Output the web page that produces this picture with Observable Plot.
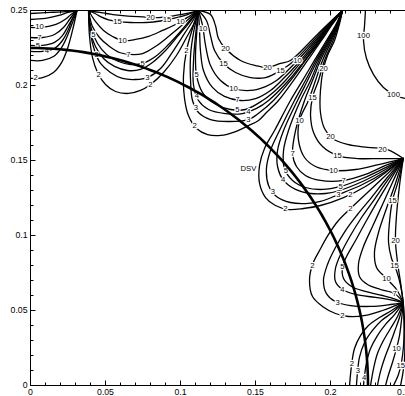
<!DOCTYPE html>
<html><head><meta charset="utf-8">
<script src="https://cdn.jsdelivr.net/npm/d3@7"></script>
<script src="https://cdn.jsdelivr.net/npm/@observablehq/plot@0.6"></script>
<style>html,body{margin:0;padding:0;background:#fff;} svg{display:block;}</style>
</head><body><div id="chart"></div>
<script>
// Contour lines. Each entry: [level, [[x_mm, y_mm], ...]]
const contoursA = [ // top-left lobes, running to the left edge
  [20, [[0,248],[13,248.7],[23,249.3],[31,250]]],
  [15, [[0,244],[10,244.7],[19,246.7],[25,248.7],[31,250]]],
  [10, [[0,238.7],[8,238.7],[17,240.7],[23,244],[27,247.3],[31,250]]],
  [7,  [[0,232],[8,232],[16,234],[22,238.7],[26,244],[29,248],[31,250]]],
  [5,  [[0,226.7],[8,226.7],[16,228.7],[21.3,233.3],[25.3,240],[28.7,246],[31,250]]],
  [4,  [[0,222.7],[8,222.7],[16,224.7],[21.3,230],[25.3,237.3],[28,244.7],[31,250]]],
  [3,  [[0,216.7],[8,216.7],[15.3,219.3],[20.7,225.3],[24.7,233.3],[28,242],[31,250]]],
  [2,  [[0,204.7],[8,205.3],[15.3,208.7],[20.7,215.3],[24.7,224.7],[28,236.7],[31,250]]]
];
const contoursB = [
  [2,  [[38.7,250],[39.3,233.3],[41.3,218.7],[44.7,208.7],[50,200.7],[56.7,196],[65.3,194.7],[73.3,196.7],[80,200.7],[88.7,208.7],[97.3,220],[104,232],[109.3,242],[112,250]]],
  [3,  [[38.7,250],[40,234.7],[42.7,223.3],[46.7,214.7],[53.3,208.7],[61.3,204.7],[70,204],[78,205.3],[86.7,211.3],[95.3,223.3],[102.7,234.7],[108.7,244],[112,250]]],
  [4,  [[38.7,250],[40,236],[43.3,226],[48.7,218],[56,212.7],[64.7,210],[73.3,210.7],[81.3,215.3],[90,223.3],[98,232.7],[105.3,241.3],[112,250]]],
  [5,  [[38.7,250],[40.7,237.3],[44.7,228],[50.7,220.7],[58.7,216],[66.7,214],[74.7,214.7],[83.3,219.3],[92,227.3],[100,236],[106.7,244],[112,250]]],
  [7,  [[38.7,250],[41.3,239.3],[46,232],[52.7,226],[59.3,222],[66.7,220.7],[74.7,221.3],[83.3,226],[92,232.7],[100,239.3],[107.3,246],[112,250]]],
  [10, [[38.7,250],[43.3,242.7],[48.7,236.7],[54.7,232.7],[61.3,230],[70,230.7],[78.7,232.7],[88,236.7],[98,241.3],[106.7,246.7],[112,250]]],
  [15, [[38.7,250],[43,248],[47,245.7],[52,243.8],[58,242.7],[66.7,242],[76.7,242],[86.7,243],[95.3,244.7],[104.7,247.3],[112,250]]],
  [20, [[38.7,250],[46,248.7],[55,247.3],[65,246.3],[75,245.8],[85.3,245.3],[96.7,246.7],[105.3,248.3],[112,250]]]
];
const contoursC = [
  [2,  [[112,250],[108,238],[104,223.3],[102,206.7],[102.7,191.3],[105.3,180],[110.7,171.3],[118,167.3],[126.7,166.7],[136.7,169.3],[145.3,173.3],[152,176.7],[157.3,182],[165.3,190],[175.3,203.3],[184.7,216.7],[194,230],[200.7,240],[208,250]]],
  [3,  [[112,250],[108.7,235.3],[106.7,220],[106.7,203.3],[108,190],[112,182],[120,177.3],[132,176],[145.3,177.3],[152.7,182],[162,190],[173.3,203.3],[183.3,216.7],[193.3,230],[200,240],[208,250]]],
  [4,  [[112,250],[110,233.3],[108.7,216.7],[108.7,200],[112,190],[118.7,184],[130,181.3],[141.3,181.3],[150.7,184.7],[158.7,190],[172,203.3],[182.7,216.7],[192.7,230],[200,240],[208,250]]],
  [5,  [[112,250],[110.7,233.3],[110,220],[110.7,206.7],[114.7,195.3],[122.7,188],[133.3,184],[143.3,184],[154.7,190],[163.3,196.7],[170,203.3],[181.3,216.7],[192,230],[199.3,240],[208,250]]],
  [7,  [[112,250],[112.7,236.7],[113.3,223.3],[115.3,210],[121.3,198.7],[129.3,192.7],[140,190],[150,191.3],[160,196.7],[167.3,203.3],[180,216.7],[191,230],[199.3,240],[208,250]]],
  [10, [[112,250],[114.7,240],[116.7,226.7],[120,213.3],[126.7,203.3],[135.3,198],[146.7,196.7],[156.7,199.3],[164,203.3],[178,216.7],[190,230],[198.7,240],[208,250]]],
  [15, [[112,250],[117.3,243.3],[120,233.3],[122.7,223.3],[128.7,214.7],[136.7,208.7],[146.7,205.3],[156.7,205.3],[166.7,210],[176,216.7],[188.7,230],[198,240],[208,250]]],
  [20, [[112,250],[120,247.3],[123.3,240],[125.3,231.3],[130,224.7],[140,216.7],[150,213.3],[158,212],[166.7,214.7],[173.3,216.7],[187.3,230],[197.3,240],[208,250]]]
];
const contoursD = [
  [2,  [[208,250],[203.3,240],[197.3,230],[189.3,216.7],[181.3,203.3],[173.3,190],[162.7,170],[156,158],[152.7,146.7],[152.7,134.7],[156.7,125.3],[163.3,120],[172,117.3],[182,118],[193.3,120],[208.7,125.3],[223.3,132.7],[236.7,142],[248.5,151.3]]],
  [3,  [[208,250],[203.7,240],[198,230],[190.3,216.7],[183.3,203.3],[176,190],[166,170],[160,156.7],[157.3,144.7],[158.7,133.3],[164,126],[173.3,122],[183.3,121.3],[193.3,122.7],[205.3,127.3],[221.3,134],[236.7,142.7],[248.5,151.3]]],
  [4,  [[208,250],[204,240],[198.7,230],[191.3,216.7],[184.7,203.3],[178,190],[168.7,170],[164.7,156.7],[164.7,146],[168.7,136.7],[176.7,130.7],[186.7,128],[196.7,128],[206,130],[221.3,136],[236.7,144],[248.5,151.3]]],
  [5,  [[208,250],[204.3,240],[199.3,230],[192.3,216.7],[186.7,203.3],[180,190],[172,170],[168.7,156.7],[169.3,144.7],[174.7,136.7],[183.3,132],[194.7,130.7],[206.7,132.7],[221.3,138],[236.7,145.3],[248.5,151.3]]],
  [7,  [[208,250],[204.7,240],[200,230],[193.3,216.7],[188,203.3],[182.7,190],[176.7,170],[174.7,154.7],[177.3,146],[183.3,140],[193.3,136.7],[208.7,136.7],[223.3,140.7],[236.7,146.7],[248.5,151.3]]],
  [10, [[208,250],[205,240],[200.7,230],[194.7,216.7],[190,203.3],[185.3,190],[179.3,176.7],[178.7,163.3],[182.7,152],[190,146],[202,143.3],[216.7,144],[232,147.3],[248.5,151.3]]],
  [15, [[208,250],[205.3,240],[201.7,230],[196,216.7],[192,203.3],[188,192],[186.7,180],[188.7,168.7],[194.7,159.3],[204.7,153.3],[218,151.3],[233.3,151.3],[248.5,151.3]]],
  [20, [[208,250],[205.7,240],[202.7,230],[198,220],[195.3,211.3],[193.3,196.7],[193.3,182],[196,171.3],[201.3,164.7],[211.3,160.7],[224.7,158.7],[238,157.3],[248.5,151.3]]]
];
const contoursE = [
  [2,  [[248.5,151.3],[236.7,140],[224.7,128.7],[213.3,118],[205.3,110],[198.7,100.7],[192.7,90],[188,80.7],[186,70],[188,59.3],[194.7,52.7],[203.3,48],[212,46],[223.3,46.7],[234.7,50],[243.3,53.3],[248.5,55.3]]],
  [3,  [[248.5,151.3],[237.3,138],[227.3,125.3],[218,114],[210,103.3],[203.3,92],[198,80.7],[195.3,70],[197.3,61.3],[203.3,56],[213.3,53.3],[226.7,52.7],[240,54],[248.5,55.3]]],
  [4,  [[248.5,151.3],[238,136.7],[228.7,123.3],[220.7,112],[213.3,100],[207.3,88.7],[203.3,78],[203.3,69.3],[208,64],[216.7,60.7],[230,58.7],[242,56.7],[248.5,55.3]]],
  [5,  [[248.5,151.3],[239.3,136],[231.3,122.7],[224,110],[216.7,96.7],[210.7,86],[208,79.3],[208.7,71.3],[214,66],[223.3,62.7],[234.7,60],[244,57.3],[248.5,55.3]]],
  [7,  [[248.5,151.3],[241.3,135.3],[234.7,120.7],[228,106],[222,92.7],[218.7,81.3],[219.3,72.7],[224.7,67.3],[233.3,64],[242.7,61.3],[248.5,55.3]]],
  [10, [[248.5,151.3],[243.3,134.7],[237.3,118],[232,102],[229.3,88.7],[230.7,78.7],[237.3,71.3],[244,64],[248.5,55.3]]],
  [15, [[248.5,151.3],[245.3,136.7],[241.3,123.3],[239.3,108.7],[238.7,95.3],[240.7,84.7],[244,76.7],[246.7,66.7],[248.5,55.3]]],
  [20, [[248.5,151.3],[246,133.3],[244,113.3],[243.3,96.7],[244.7,82],[246.7,68.7],[248.5,55.3]]]
];
const contoursF = [
  [2,  [[248.5,55.3],[240.7,50],[232.7,45.3],[225.3,40],[220,33.3],[216,24.7],[214,13.3],[212.7,0]]],
  [3,  [[248.5,55.3],[241.3,48.7],[234,43.3],[228,36.7],[222.7,28.7],[219.3,18.7],[218,8.7],[217.3,0]]],
  [4,  [[248.5,55.3],[242.7,47.3],[236.7,40.7],[231.3,33.3],[226.7,24.7],[224,15.3],[222.7,6.7],[222,0]]],
  [5,  [[248.5,55.3],[244.7,46],[240,38],[235.3,30],[231.3,21.3],[228.7,11.3],[226.7,0]]],
  [7,  [[248.5,55.3],[246,45.3],[242.7,36],[239.3,26.7],[236,18],[233.3,9.3],[231.3,0]]],
  [10, [[248.5,55.3],[247.3,43.3],[246,33.3],[244,24.7],[241.3,15.3],[238.7,7.3],[236.7,0]]],
  [15, [[248.5,55.3],[249,40],[248.7,26.7],[247.3,15.3],[245.3,7.3],[242,0]]],
  [20, [[248.5,55.3],[249.3,43.3],[249.3,16.7],[248,6.7],[246.7,0]]]
];
const contour100 = [[223.3,250],[222.7,240],[222,230],[224,218],[228.7,207.3],[235.3,198.7],[243.3,193.3],[250,191.3]];

// contour labels [x_mm, y_mm, text]
const contourLabels = [
  [6,239,"10"],[6,232,"7"],[5,226.7,"5"],[11,223.5,"4"],[3.5,205,"2"],
  [58,242.7,"15"],[61.3,230,"10"],[65.3,220.7,"7"],[74.7,214.7,"5"],[78,205.3,"3"],[80,200.7,"2"],
  [80,245.6,"20"],[91,243.8,"15"],[100,242.5,"10"],[42,234.3,"5"],[44,220.5,"3"],[45.5,207.5,"2"],
  [104,223.3,"2"],[110.7,207,"5"],[110.9,193.3,"4"],[110.3,185.3,"3"],[109.4,173.3,"2"],[115,238,"10"],
  [130,224.7,"20"],[128.7,214.7,"15"],[135.3,198,"10"],[138,190.5,"7"],[138,184,"5"],[145.3,182.7,"4"],[145.3,177.3,"3"],
  [158,212,"20"],[166.7,210,"15"],[178,216.7,"10"],
  [195.3,211.3,"20"],[188,192,"15"],[179.3,176.7,"10"],[174.7,154.7,"7"],[170.2,143.3,"5"],[168.4,137.3,"4"],[161.6,129.3,"3"],[170,117.9,"2"],
  [200,166.3,"20"],[204.7,153.3,"15"],[202,143.3,"10"],[208.7,136.7,"7"],[206.7,132.7,"5"],[205.3,127.3,"3"],[213.3,127.6,"2"],[234.7,157.6,"20"],
  [187.9,80,"2"],[208,46.9,"2"],[204.7,55.6,"3"],[208,64,"4"],[208,79.3,"5"],[242.7,61.3,"7"],[237.3,71.3,"10"],[242.7,80,"15"],[243.3,96.7,"20"],[213.3,118,"2"],[241.3,123.3,"15"],
  [214.2,14.7,"2"],[218.2,10,"3"],[222.5,5.3,"4"],[244,24.7,"10"],[246.8,13.3,"15"],
  [222,233.3,"100"],[242,194.2,"100"]
];
const dsvRadius = 0.225;           // m
const dsvLabel = {x: 0.1453, y: 0.1447, text: "DSV"};
const xTickValues = [0, 0.05, 0.1, 0.15, 0.2, 0.25];
const xTickLabels = ["0", "0.05", "0.1", "0.15", "0.2", "0.25"];
const yTickValues = [0, 0.05, 0.1, 0.15, 0.2, 0.25];
const yTickLabels = ["0", "0.05", "0.1", "0.15", "0.2", "0.25"];

const families = {A: contoursA, B: contoursB, C: contoursC, D: contoursD, E: contoursE, F: contoursF};
const rows = [];
for (const [name, fam] of Object.entries(families)) {
  for (const [lev, pts] of fam) for (const [x, y] of pts) rows.push({id: name + lev, level: lev, x: x / 1000, y: y / 1000});
}
for (const [x, y] of contour100) rows.push({id: "H100", level: 100, x: x / 1000, y: y / 1000});
const labels = contourLabels.map(([x, y, t]) => ({x: x / 1000, y: y / 1000, t}));
const dsv = d3.range(0, 91).map(a => ({x: dsvRadius * Math.cos(a * Math.PI / 180), y: dsvRadius * Math.sin(a * Math.PI / 180)}));
const minor = d3.range(0, 26).map(i => i / 100);

const seg = (dx, dy) => ({draw(ctx) { ctx.moveTo(0, 0); ctx.lineTo(dx, dy); }});
const tickMarks = (vals, len) => [
  Plot.dot(vals, {x: d => d, y: () => 0, symbol: seg(0, -len), stroke: "black", fill: "none", strokeWidth: 1}),
  Plot.dot(vals, {x: d => d, y: () => 0.25, symbol: seg(0, len), stroke: "black", fill: "none", strokeWidth: 1}),
  Plot.dot(vals, {x: () => 0, y: d => d, symbol: seg(len, 0), stroke: "black", fill: "none", strokeWidth: 1})
];

const chart = Plot.plot({
  width: 405, height: 396,
  marginLeft: 30, marginRight: 0, marginTop: 10, marginBottom: 11,
  x: {domain: [0, 0.25], label: null},
  y: {domain: [0, 0.25], label: null},
  style: {fontFamily: "'Liberation Sans', Arial, Helvetica, sans-serif", background: "white", color: "black", overflow: "hidden"},
  marks: [
    Plot.line(rows, {x: "x", y: "y", z: "id", curve: "catmull-rom", stroke: "black", strokeWidth: 1.3, clip: true}),
    Plot.text(labels, {x: "x", y: "y", text: "t", fontSize: 7.7, fill: "black", stroke: "white", strokeWidth: 2.5, paintOrder: "stroke"}),
    Plot.line(dsv, {x: "x", y: "y", stroke: "black", strokeWidth: 2.6, clip: true}),
    Plot.text([dsvLabel], {x: "x", y: "y", text: "text", fontSize: 7.7, fill: "black"}),
    Plot.frame({stroke: "black", strokeWidth: 1}),
    ...tickMarks(minor, 3),
    ...tickMarks(xTickValues, 5),
    Plot.axisX(xTickValues, {tickSize: 0, tickPadding: 3, fontSize: 8.7, tickFormat: d => xTickLabels[xTickValues.indexOf(d)], label: null}),
    Plot.axisY(yTickValues, {tickSize: 0, tickPadding: 3, fontSize: 8.7, tickFormat: d => yTickLabels[yTickValues.indexOf(d)], label: null})
  ]
});
document.getElementById("chart").appendChild(chart);
</script>
</body></html>
